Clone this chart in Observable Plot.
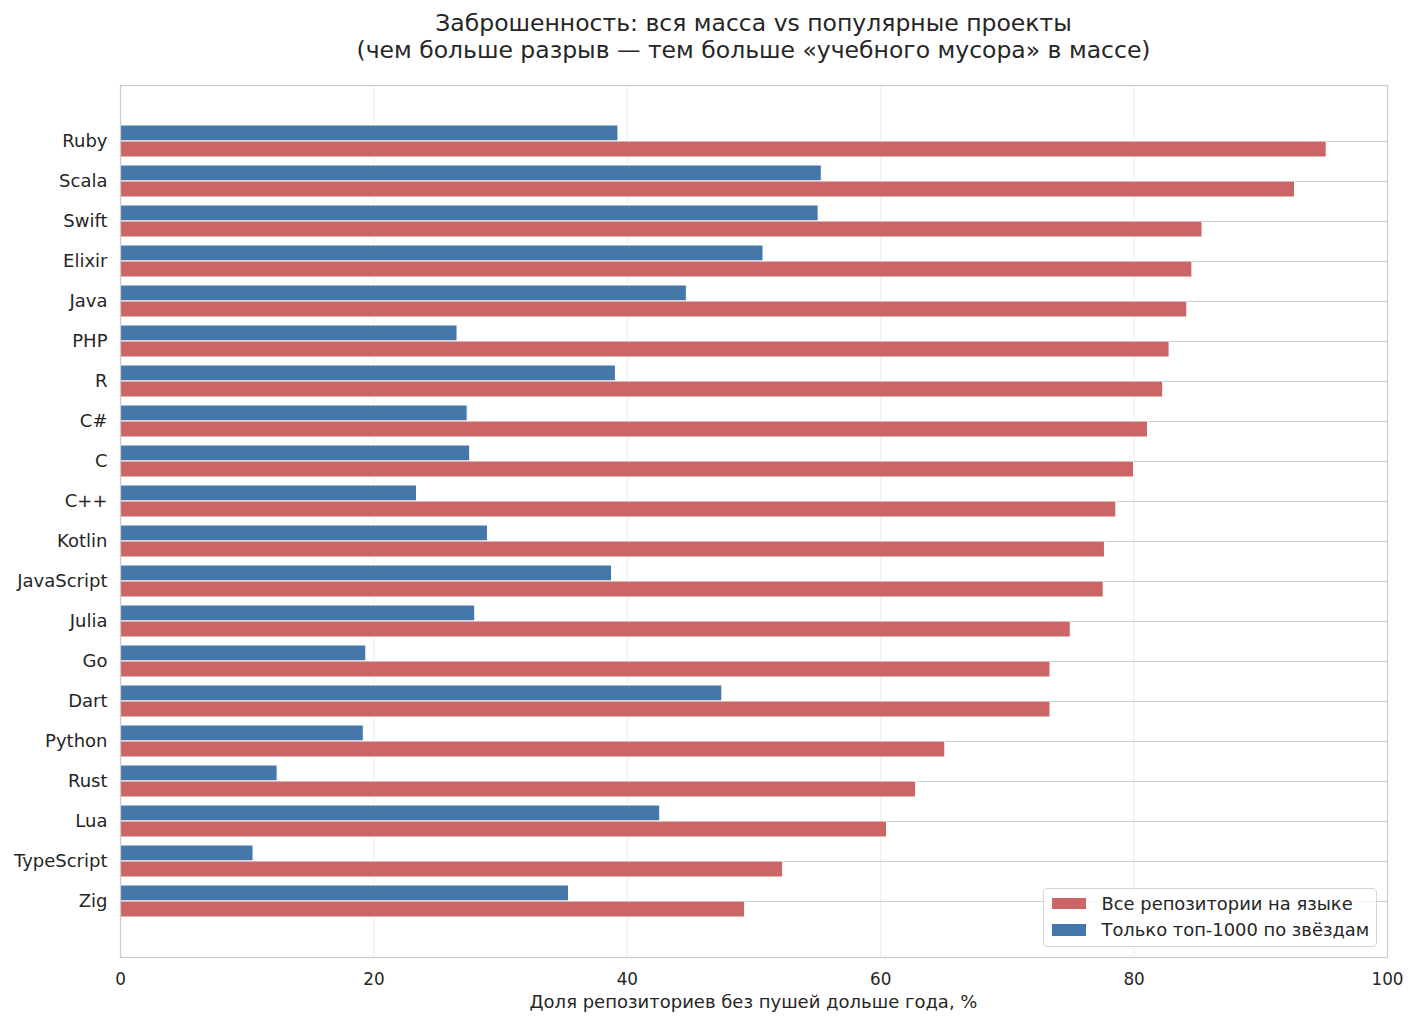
<!DOCTYPE html>
<html>
<head>
<meta charset="utf-8">
<script src="https://cdn.jsdelivr.net/npm/d3@7"></script>
<script src="https://cdn.jsdelivr.net/npm/@observablehq/plot@0.6"></script>
<style>
  html, body { margin: 0; padding: 0; background: #fff; }
  body { font-family: "DejaVu Sans", sans-serif; color: #262626; }
  #wrap { position: relative; width: 1416px; height: 1026px; overflow: hidden; background: #fff; }
  #title { position: absolute; left: 120px; width: 1267px; top: 10px; text-align: center;
           font-size: 23.5px; line-height: 27px; color: #262626; white-space: nowrap; }
  #chart { position: absolute; left: 0; top: 65px; }
  #xlabel { position: absolute; left: 120px; width: 1267px; top: 992px; text-align: center;
            font-size: 18px; line-height: 20px; color: #262626; white-space: nowrap; }
  #legend { position: absolute; left: 1043px; top: 888px; width: 334px; height: 59px; box-sizing: border-box;
            border: 1px solid #d4d4d4; border-radius: 4px; background: rgba(255,255,255,0.8);
            padding-top: 1px; font-size: 17.9px; color: #262626; white-space: nowrap; }
  #legend .row { display: flex; align-items: center; height: 26.6px; padding-left: 8px; }
  #legend .sw { width: 34px; height: 11.5px; margin-right: 15.5px; flex: none; }
</style>
</head>
<body>
<div id="wrap">
  <div id="title"></div>
  <div id="chart"></div>
  <div id="xlabel"></div>
  <div id="legend"></div>
</div>
<script>
// ---- data ----
const languages = ["Ruby","Scala","Swift","Elixir","Java","PHP","R","C#","C","C++",
  "Kotlin","JavaScript","Julia","Go","Dart","Python","Rust","Lua","TypeScript","Zig"];
const allRepos = [95.2, 92.7, 85.4, 84.6, 84.2, 82.8, 82.3, 81.1, 80.0, 78.6,
  77.7, 77.6, 75.0, 73.4, 73.4, 65.1, 62.8, 60.5, 52.3, 49.3];
const top1000 = [39.3, 55.35, 55.1, 50.75, 44.7, 26.6, 39.1, 27.4, 27.6, 23.4,
  29.0, 38.8, 28.0, 19.4, 47.5, 19.2, 12.4, 42.6, 10.5, 35.4];
const seriesNames = ["Все репозитории на языке", "Только топ-1000 по звёздам"];
const seriesColors = ["#cc6666", "#4577aa"];
const xTicks = [0, 20, 40, 60, 80, 100];
const titleLines = ["Заброшенность: вся масса vs популярные проекты",
  "(чем больше разрыв — тем больше «учебного мусора» в массе)"];
const xLabel = "Доля репозиториев без пушей дольше года, %";

// ---- table ----
const barHeight = 0.4;
const rows = languages.flatMap((lang, i) => [
  {lang, series: seriesNames[1], value: top1000[i], y1: i - barHeight, y2: i},
  {lang, series: seriesNames[0], value: allRepos[i], y1: i, y2: i + barHeight}
]);
const yTicks = languages.map((d, i) => i);

const chart = Plot.plot({
  width: 1416,
  height: 925,
  marginTop: 20,
  marginBottom: 33,
  marginLeft: 120,
  marginRight: 29,
  style: {fontFamily: "DejaVu Sans, sans-serif", fontSize: "16.5px", color: "#262626", background: "#fff", overflow: "visible"},
  x: {domain: [0, 100], label: null},
  y: {domain: [-1.4, languages.length - 1 + 1.4], reverse: true, label: null},
  color: {domain: seriesNames, range: seriesColors},
  marks: [
    Plot.gridX({ticks: xTicks, stroke: "#ebebeb", strokeOpacity: 1, strokeWidth: 1}),
    Plot.gridY({ticks: yTicks, stroke: "#cccccc", strokeOpacity: 1, strokeWidth: 1}),
    Plot.rect(rows, {x1: () => 0, x2: "value", y1: "y1", y2: "y2", fill: "series", stroke: "white", strokeWidth: 1}),
    Plot.frame({stroke: "#cccccc", strokeWidth: 1.25}),
    Plot.axisX({ticks: xTicks, tickSize: 0, tickPadding: 16, label: null, fontSize: 16.8}),
    Plot.axisY({ticks: yTicks, tickFormat: i => languages[i], tickSize: 0, tickPadding: 13, label: null, fontSize: 18})
  ]
});
document.getElementById("chart").appendChild(chart);

document.getElementById("title").innerHTML = titleLines.map(t => `<div>${t}</div>`).join("");
document.getElementById("xlabel").textContent = xLabel;
const legend = document.getElementById("legend");
seriesNames.forEach((name, k) => {
  const row = document.createElement("div");
  row.className = "row";
  const sw = document.createElement("span");
  sw.className = "sw";
  sw.style.background = seriesColors[k];
  const tx = document.createElement("span");
  tx.textContent = name;
  row.appendChild(sw);
  row.appendChild(tx);
  legend.appendChild(row);
});
</script>
</body>
</html>
